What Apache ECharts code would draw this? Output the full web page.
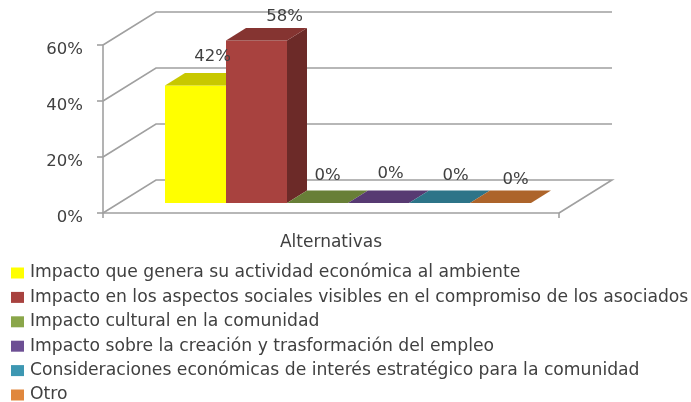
<!DOCTYPE html>
<html>
<head>
<meta charset="utf-8">
<script src="https://cdn.jsdelivr.net/npm/echarts@6/dist/echarts.min.js"></script>
<style>html,body{margin:0;padding:0;background:#fff}#c{width:691px;height:402px}</style>
</head>
<body>
<div id="c"></div>
<script>
var categories = [
  'Impacto que genera su actividad económica al ambiente',
  'Impacto en los aspectos sociales visibles en el compromiso de los asociados',
  'Impacto cultural en la comunidad',
  'Impacto sobre la creación y trasformación del empleo',
  'Consideraciones económicas de interés estratégico para la comunidad',
  'Otro'
];
var values = [42, 58, 0, 0, 0, 0];
var yTicks = [0, 20, 40, 60];
var axisTitle = 'Alternativas';

var legendColors = ['#ffff00', '#a8423f', '#8aa64a', '#6d4f94', '#3d97b2', '#e0873d'];
var frontColors = ['#ffff00', '#a8423f', '#86a44a', '#6e548d', '#3d96ae', '#da8137'];
var topColors = ['#c8c800', '#853431', '#687f37', '#573a72', '#2d7488', '#ad642a'];
var sideColors = ['#9a9a00', '#6c2a28', '#536a2c', '#452d5c', '#245d6e', '#8c5022'];
var labelNudge = [[17, -29], [28, -24], [10, -27], [12, -29], [16, -27], [15, -23]];

var FONT = 'DejaVu Sans';
var WALL = [53, -33];
var BAR_DEPTH = [20, -12.5];

function renderWalls(params, api) {
  var cs = params.coordSys;
  var y = api.coord([0, api.value(0)])[1];
  var x0 = cs.x, x1 = cs.x + cs.width;
  var pts = [[x0, y], [x0 + WALL[0], y + WALL[1]], [x1 + WALL[0], y + WALL[1]]];
  if (api.value(0) === 0) pts.push([x1, y]);
  return {
    type: 'polyline',
    shape: { points: pts },
    style: { fill: null, stroke: '#a0a0a0', lineWidth: 1.6 }
  };
}

function makeRenderBar(i) {
  return function (params, api) {
    var base = api.coord([api.value(0), 0]);
    var top = api.coord([api.value(0), api.value(1)]);
    var w = api.size([1, 0])[0];
    var l = base[0] - w / 2, r = base[0] + w / 2;
    var dx = BAR_DEPTH[0], dy = BAR_DEPTH[1];
    var children = [];
    if (base[1] - top[1] > 0.5) {
      children.push({
        type: 'polygon', z2: 1,
        shape: { points: [[r, top[1]], [r + dx, top[1] + dy], [r + dx, base[1] + dy], [r, base[1]]] },
        style: { fill: sideColors[i] }
      });
      children.push({
        type: 'rect', z2: 1,
        shape: { x: l, y: top[1], width: r - l, height: base[1] - top[1] },
        style: { fill: frontColors[i] }
      });
    }
    children.push({
      type: 'polygon', z2: 1,
      shape: { points: [[l, top[1]], [l + dx, top[1] + dy], [r + dx, top[1] + dy], [r, top[1]]] },
      style: { fill: topColors[i] }
    });
    children.push({
      type: 'text', z2: 20,
      style: {
        x: base[0] + labelNudge[i][0], y: top[1] + labelNudge[i][1],
        text: api.value(1) + '%', fill: '#404040', font: '16.5px "' + FONT + '"',
        align: 'center', verticalAlign: 'middle'
      }
    });
    return { type: 'group', children: children };
  };
}

var series = [{
  type: 'custom', name: 'walls', xAxisIndex: 0, yAxisIndex: 0, z: 1, silent: true,
  data: yTicks.map(function (v) { return [v]; }),
  encode: { y: 0 },
  renderItem: renderWalls
}];
categories.forEach(function (name, i) {
  series.push({
    type: 'custom', name: name, xAxisIndex: 1, yAxisIndex: 1, z: 3,
    itemStyle: { color: legendColors[i] },
    data: [[i, values[i]]],
    encode: { x: 0, y: 1 },
    renderItem: makeRenderBar(i)
  });
});

var chart = echarts.init(document.getElementById('c'), null, { renderer: 'canvas' });
chart.setOption({
  animation: false,
  backgroundColor: '#fff',
  grid: [
    { left: 103, right: 132, top: 45, bottom: 189 },
    { left: 165, right: 160, top: 35, bottom: 199 }
  ],
  xAxis: [
    {
      gridIndex: 0, type: 'category', data: [''],
      name: axisTitle, nameLocation: 'middle', nameGap: 21,
      nameTextStyle: { color: '#404040', fontSize: 17, fontFamily: FONT },
      axisLine: { lineStyle: { color: '#a0a0a0', width: 1.6 } },
      axisTick: { show: true, alignWithLabel: false, length: 5, lineStyle: { color: '#a0a0a0', width: 1.6 } },
      axisLabel: { show: false }
    },
    { gridIndex: 1, type: 'category', data: categories, show: false }
  ],
  yAxis: [
    {
      gridIndex: 0, type: 'value', min: 0, max: 60, interval: 20,
      axisLine: { show: true, lineStyle: { color: '#a0a0a0', width: 1.6 } },
      axisTick: { show: true, length: 6, lineStyle: { color: '#a0a0a0', width: 1.6 } },
      splitLine: { show: false },
      axisLabel: { formatter: '{value}%', color: '#404040', fontSize: 16.5, fontFamily: FONT, margin: 20, verticalAlign: 'top', lineHeight: 10 }
    },
    { gridIndex: 1, type: 'value', min: 0, max: 60, interval: 20, show: false }
  ],
  legend: {
    orient: 'vertical', left: 6, top: 258, height: 150, padding: 5, itemGap: 4.4,
    itemWidth: 13, itemHeight: 11, icon: 'rect', align: 'left',
    data: categories,
    textStyle: { color: '#404040', fontSize: 17.2, fontFamily: FONT, padding: [0, 0, 0, 1], height: 20, lineHeight: 20 }
  },
  series: series
});
</script>
</body>
</html>
